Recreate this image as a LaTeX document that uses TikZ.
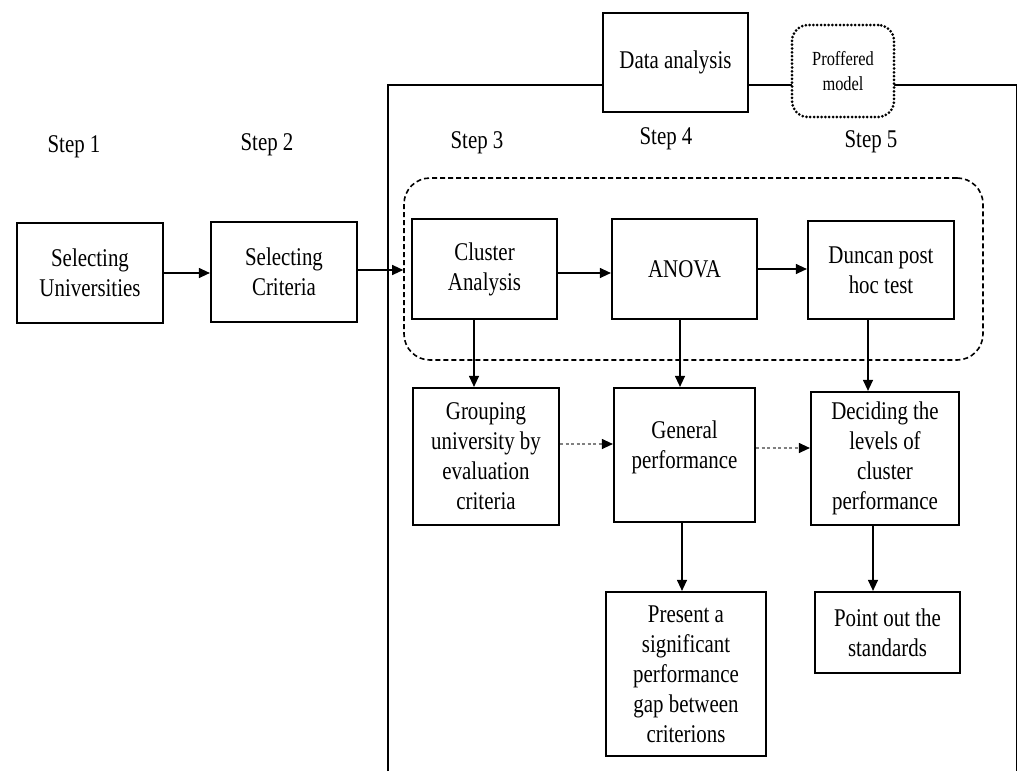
\documentclass[tikz,border=0pt]{standalone}
\usepackage{fontspec}
\setmainfont{Liberation Serif}[FakeStretch=0.82]
\usetikzlibrary{arrows.meta}
\newcommand\bigtxt{\fontsize{25.5}{30}\selectfont}
\newcommand\smalltxt{\fontsize{20}{25}\selectfont}
\begin{document}
\begin{tikzpicture}[x=1pt,y=-1pt,
  box/.style={draw, line width=2.2pt, fill=white, inner sep=0pt, align=center, font=\bigtxt},
  steplabel/.style={inner sep=0pt, font=\bigtxt},
  frameline/.style={line width=1.4pt},
  groupbox/.style={draw, line width=1.6pt, dash pattern=on 5pt off 3pt, rounded corners=26pt, inner sep=0pt},
  dotbox/.style={draw, line width=3pt, dash pattern=on 0pt off 3.8pt, line cap=round, rounded corners=16pt, fill=white, inner sep=0pt, align=center, font=\smalltxt},
  arr/.style={line width=1.2pt, -{Triangle[length=11pt,width=10pt]}},
  darr/.style={line width=1.2pt, gray, dash pattern=on 3pt off 2.5pt, -{Triangle[length=11pt,width=10pt,color=black]}}
]
\useasboundingbox (0,0) rectangle (1019,771);
\fill[white] (0,0) rectangle (1019,771);

% outer frame
\draw[frameline] (388,771) -- (388,85) -- (1016.5,85) -- (1016.5,771);

% top boxes
\node[box, minimum width=145pt, minimum height=99pt] (data) at (675.5,62.5) {Data analysis};
\node[dotbox, minimum width=102pt, minimum height=92pt] (proff) at (843,71) {Proffered\\model};

% step labels
\node[steplabel] (s1) at (74,147) {Step 1};
\node[steplabel] (s2) at (267,145) {Step 2};
\node[steplabel] (s3) at (477,143) {Step 3};
\node[steplabel] (s4) at (666,139) {Step 4};
\node[steplabel] (s5) at (871,142) {Step 5};

% dashed group
\node[groupbox, minimum width=579pt, minimum height=182pt] (grp) at (693.5,269) {};

% row 1
\node[box, minimum width=146pt, minimum height=100pt] (univ) at (90,273) {Selecting\\Universities};
\node[box, minimum width=146pt, minimum height=100pt] (crit) at (284,272) {Selecting\\Criteria};
\node[box, minimum width=145pt, minimum height=100pt] (clus) at (484.5,269) {Cluster\\Analysis};
\node[box, minimum width=145pt, minimum height=100pt] (anova) at (684.5,269) {ANOVA};
\node[box, minimum width=146pt, minimum height=98pt] (dunc) at (881,270) {Duncan post\\hoc test};

% row 2
\node[box, minimum width=146pt, minimum height=137pt] (grpu) at (486,456.5) {Grouping\\university by\\evaluation\\criteria};
\node[box, minimum width=141pt, minimum height=134pt] (gen) at (684.5,455) {};
\node[inner sep=0pt, align=center, font=\bigtxt] (gentxt) at (684.5,447) {General\\performance};
\node[box, minimum width=148pt, minimum height=133pt] (dec) at (885,458.5) {Deciding the\\levels of\\cluster\\performance};

% row 3
\node[box, minimum width=160pt, minimum height=164pt] (pres) at (686,674) {Present a\\significant\\performance\\gap between\\criterions};
\node[box, minimum width=145pt, minimum height=81pt] (point) at (887.5,632.5) {Point out the\\standards};

% horizontal arrows
\draw[arr] (univ.east) -- (univ.east -| crit.west);
\draw[arr] ([yshift=2pt]crit.east) -- ([yshift=2pt]crit.east -| grp.west);
\draw[arr] ([yshift=-4pt]clus.east) -- ([yshift=-4pt]clus.east -| anova.west);
\draw[arr] (anova.east) -- (anova.east -| dunc.west);

% vertical arrows
\draw[arr] ([xshift=-10.5pt]clus.south) -- ([xshift=-10.5pt]clus.south |- grpu.north);
\draw[arr] ([xshift=-4.5pt]anova.south) -- ([xshift=-4.5pt]anova.south |- gen.north);
\draw[arr] ([xshift=-13pt]dunc.south) -- ([xshift=-13pt]dunc.south |- dec.north);
\draw[arr] ([xshift=-2.5pt]gen.south) -- ([xshift=-2.5pt]gen.south |- pres.north);
\draw[arr] ([xshift=-12pt]dec.south) -- ([xshift=-12pt]dec.south |- point.north);

% dashed arrows
\draw[darr] ([yshift=12.5pt]grpu.east) -- ([yshift=12.5pt]grpu.east -| gen.west);
\draw[darr] ([yshift=7pt]gen.east) -- ([yshift=7pt]gen.east -| dec.west);
\end{tikzpicture}
\end{document}
